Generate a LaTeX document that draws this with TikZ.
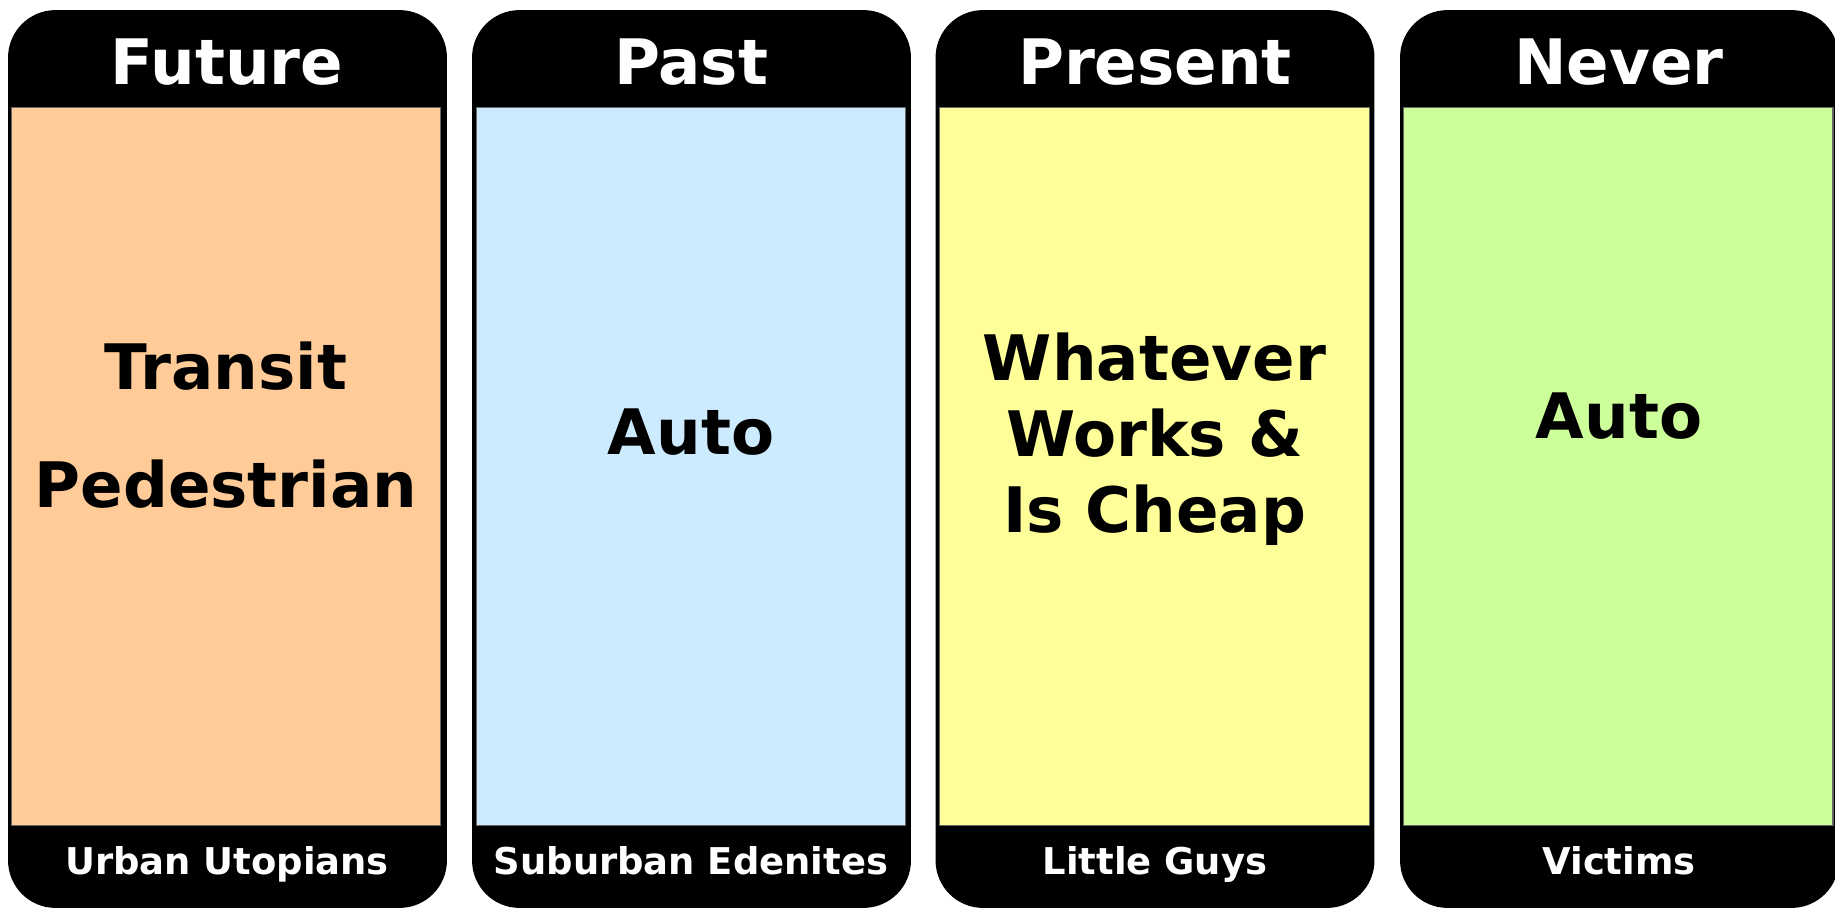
\documentclass[tikz,border=0pt]{standalone}
\usepackage{fontspec}
\setmainfont{DejaVu Sans}
\usetikzlibrary{positioning}
\definecolor{futurecol}{HTML}{FFCC99}
\definecolor{pastcol}{HTML}{CCEBFF}
\definecolor{presentcol}{HTML}{FFFF99}
\definecolor{nevercol}{HTML}{CCFF99}
\tikzset{
  panel/.style = {rectangle, fill=black, rounded corners=0.95cm, minimum width=8.78cm, minimum height=17.96cm, inner sep=0pt},
  body/.style = {rectangle, draw=black!60, line width=0.6pt, minimum width=8.6cm, minimum height=14.38cm, inner sep=0pt},
  head/.style = {text=white, font=\bfseries\fontsize{35.7}{43}\selectfont, anchor=base, inner sep=0pt},
  foot/.style = {text=white, font=\bfseries\fontsize{21}{25}\selectfont, anchor=base, inner sep=0pt},
  main/.style = {align=center, font=\bfseries\fontsize{35.7}{43}\selectfont, anchor=base, inner sep=0pt}
}

\begin{document}
\begin{tikzpicture}[x=0.02cm, y=-0.02cm]
  \useasboundingbox (0,0) rectangle (1835,909);

  % Future
  \node[panel] (future) at (227.5,459) {};
  \node[body, fill=futurecol] (futurebody) at (226,466.5) {};
  \node[head] (futurehead) at (227,85) {Future};
  \node[main, font=\bfseries\fontsize{35.7}{66.6}\selectfont] (futuretext) at (226,507) {Transit\\Pedestrian};
  \node[foot] (futurefoot) at (227,874) {Urban Utopians};

  % Past
  \node[panel] (past) at (691.5,459) {};
  \node[body, fill=pastcol] (pastbody) at (691,466.5) {};
  \node[head] (pasthead) at (691,85) {Past};
  \node[main] (pasttext) at (691,454) {Auto};
  \node[foot] (pastfoot) at (691,874) {Suburban Edenites};

  % Present
  \node[panel] (present) at (1155,459) {};
  \node[body, fill=presentcol] (presentbody) at (1154.5,466.5) {};
  \node[head] (presenthead) at (1155,85) {Present};
  \node[main] (presenttext) at (1154.5,532) {Whatever\\Works \&\\Is Cheap};
  \node[foot] (presentfoot) at (1155,874) {Little Guys};

  % Never
  \node[panel] (never) at (1619.5,459) {};
  \node[body, fill=nevercol] (neverbody) at (1618,466.5) {};
  \node[head] (neverhead) at (1619,85) {Never};
  \node[main] (nevertext) at (1619,438) {Auto};
  \node[foot] (neverfoot) at (1619,874) {Victims};
\end{tikzpicture}
\end{document}
